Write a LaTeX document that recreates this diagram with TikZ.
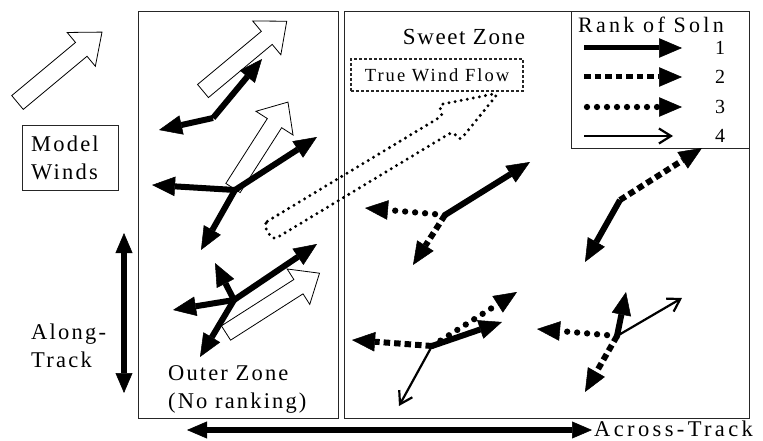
\documentclass[tikz,border=0pt]{standalone}
\usepackage{fontspec}
\setmainfont{Liberation Serif}
\usetikzlibrary{arrows.meta}
\newcommand\txtfont[2]{\fontsize{#1}{28}\selectfont\addfontfeature{LetterSpace=#2}}
\tikzset{
  frame/.style={draw=black!85, line width=0.9pt},
  lbl/.style={inner sep=0pt, font=\txtfont{22.5}{9.5}},
  hollowst/.style={draw=black, line width=0.8pt, fill=white, line join=miter},
  flowst/.style={draw=black, line width=3.3pt, line cap=round, dash pattern=on 0pt off 6.2pt, rounded corners=5pt},
  tipA/.tip={Triangle[length=23pt,width=19.5pt,line width=0.5pt]},
  tipB/.tip={Triangle[length=20pt,width=17pt,line width=0.5pt]},
  rankone/.style={line width=6pt, -tipA},
  ranktwo/.style={line width=6pt, dash pattern=on 6.5pt off 4pt, -tipA},
  rankthree/.style={line width=6.3pt, line cap=round, dash pattern=on 0pt off 10pt, -tipA},
  rankfour/.style={line width=2.2pt, -{Straight Barb[length=12pt,width=15pt,line width=2.2pt]}},
  axisarrow/.style={line width=5.5pt, tipB-tipB}
}
% #1 options, #2 tail x,y, #3 angle, #4 length, #5 half shaft, #6 half head, #7 head length
\newcommand\hollowarrow[7][]{%
  \begin{scope}[shift={(#2)},rotate=#3]
    \draw[hollowst,#1] (0,-#5) -- ({#4-#7},-#5) -- ({#4-#7},-#6) -- (#4,0)
      -- ({#4-#7},#6) -- ({#4-#7},#5) -- (0,#5) -- cycle;
  \end{scope}}
\begin{document}
\begin{tikzpicture}[x=1pt,y=-1pt]
\path[use as bounding box] (0,0) rectangle (763,441);

% frames
\draw[frame] (138,11) rectangle (338,418);
\draw[frame] (344,11) rectangle (749,418);
\draw[frame] (571,11) rectangle (749,148);

% hollow model wind arrows
\hollowarrow{17.5,102.5}{39.8}{110}{9}{22}{27}
\hollowarrow{203,91}{39.8}{109}{8.5}{22}{26}
\hollowarrow{233,188}{57.4}{102}{8.5}{22}{25}
\hollowarrow{226,333}{32.6}{111}{8.5}{21}{25}
% true wind flow (dotted)
\hollowarrow[flowst,fill=none]{268,232}{31.1}{269}{9.5}{21}{58}

% text
\node[lbl, font=\txtfont{23}{7}] (sweet) at (464,37) {Sweet Zone};
\node[lbl, font=\txtfont{22}{15}] (rank) at (651,25) {Rank of Soln};
\node[lbl, font=\txtfont{20}{0}] (r1) at (720,48) {1};
\node[lbl, font=\txtfont{20}{0}] (r2) at (720,77) {2};
\node[lbl, font=\txtfont{20}{0}] (r3) at (720,107) {3};
\node[lbl, font=\txtfont{20}{0}] (r4) at (720,136) {4};
\node[frame, lbl, font=\txtfont{22.5}{10}, minimum width=96pt, minimum height=65pt, text width=78pt, align=left]
  (model) at (70,157.5) {Model\\Winds};
\node[frame, dash pattern=on 3pt off 2pt, line width=1.1pt, lbl, font=\txtfont{18.5}{11}, minimum width=172pt, minimum height=32pt]
  (true) at (437,75) {True Wind Flow};
\node[lbl, font=\txtfont{22.5}{10}, align=left, anchor=west] (along) at (31,346) {Along-\\Track};
\node[lbl, align=left, anchor=west] (outer) at (168,389) {Outer Zone\\(No ranking)};
\node[lbl, font=\txtfont{22.5}{15}, anchor=west] (across) at (594,429) {Across-Track};

% legend arrows
\coordinate (l1s) at (584,48);  \coordinate (l1e) at (682,48);
\coordinate (l2s) at (584,77);  \coordinate (l2e) at (682,77);
\coordinate (l3s) at (587,107); \coordinate (l3e) at (682,107);
\coordinate (l4s) at (584,136); \coordinate (l4e) at (673,136);
\draw[rankone, line width=5pt] (l1s) -- (l1e);
\draw[ranktwo, line width=5pt] (l2s) -- (l2e);
\draw[rankthree] (l3s) -- (l3e);
\draw[rankfour] (l4s) -- (l4e);

% axes
\coordinate (at1) at (124,233); \coordinate (at2) at (124,393);
\coordinate (ac1) at (187,430); \coordinate (ac2) at (592,430);
\draw[axisarrow] (at1) -- (at2);
\draw[axisarrow] (ac1) -- (ac2);

% outer zone clusters
\coordinate (oa) at (213,118);
\coordinate (oa1) at (262,59); \coordinate (oa2) at (159,130);
\draw[rankone] (oa) -- (oa1);
\draw[rankone] (oa) -- (oa2);

\coordinate (ob) at (235,190);
\coordinate (ob1) at (152,185); \coordinate (ob2) at (317,137); \coordinate (ob3) at (201,250);
\draw[rankone] (ob) -- (ob1);
\draw[rankone] (ob) -- (ob2);
\draw[rankone] (ob) -- (ob3);

\coordinate (oc) at (234,300);
\coordinate (oc1) at (215,263); \coordinate (oc2) at (173,310);
\coordinate (oc3) at (317,244); \coordinate (oc4) at (200,357);
\draw[rankone] (oc) -- (oc1);
\draw[rankone] (oc) -- (oc2);
\draw[rankone] (oc) -- (oc3);
\draw[rankone] (oc) -- (oc4);

% sweet zone clusters
\coordinate (sa) at (445,215);
\coordinate (sa1) at (365,208); \coordinate (sa2) at (413,265); \coordinate (sa3) at (530,162);
\draw[rankthree] (sa) -- (sa1);
\draw[ranktwo] (sa) -- (sa2);
\draw[rankone] (sa) -- (sa3);

\coordinate (sb) at (620,200);
\coordinate (sb1) at (702,148); \coordinate (sb2) at (585,262);
\draw[ranktwo] (sb) -- (sb1);
\draw[rankone] (sb) -- (sb2);

\coordinate (sc) at (432,346);
\coordinate (sc1) at (352,340); \coordinate (sc2) at (399,406);
\coordinate (sc3) at (502,322); \coordinate (sc4) at (517,292);
\draw[ranktwo] (sc) -- (sc1);
\draw[rankfour] (sc) -- (sc2);
\draw[rankthree] (sc) -- (sc4);
\draw[rankone] (sc) -- (sc3);

\coordinate (sd) at (617,336);
\coordinate (sd1) at (537,329); \coordinate (sd2) at (626,292);
\coordinate (sd3) at (682,298); \coordinate (sd4) at (585,392);
\draw[rankthree] (sd) -- (sd1);
\draw[ranktwo] (sd) -- (sd4);
\draw[rankfour] (sd) -- (sd3);
\draw[rankone] (sd) -- (sd2);
\end{tikzpicture}
\end{document}
